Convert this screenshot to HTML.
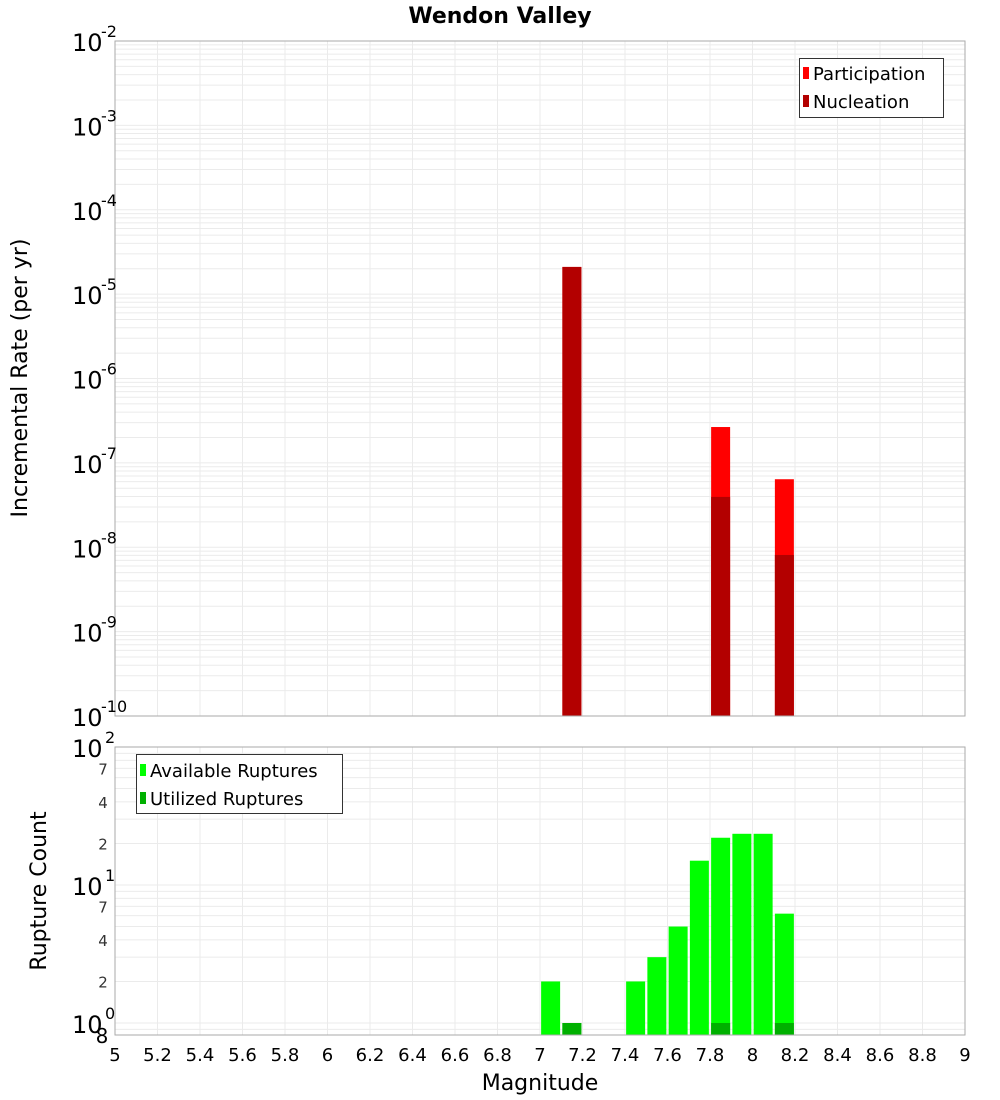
<!DOCTYPE html>
<html><head><meta charset="utf-8"><style>
body{margin:0;background:#fff;}
svg{display:block;font-family:"DejaVu Sans","Liberation Sans",sans-serif;}
</style></head><body>
<svg id="chart" width="1000" height="1100" viewBox="0 0 1000 1100">
<text x="500" y="23" text-anchor="middle" font-size="22" font-weight="bold">Wendon Valley</text>
<g id="topPanel"></g>
<g id="botPanel"></g>
<text transform="translate(27,378) rotate(-90)" text-anchor="middle" font-size="22">Incremental Rate (per yr)</text>
<text transform="translate(46,891) rotate(-90)" text-anchor="middle" font-size="22">Rupture Count</text>
<text x="540" y="1090" text-anchor="middle" font-size="22">Magnitude</text>
<g>
<rect x="799.5" y="58.5" width="144" height="59" fill="#fff" stroke="#333"/>
<rect x="803" y="67" width="6" height="12" fill="#ff0000"/>
<text x="813" y="80" font-size="18">Participation</text>
<rect x="803" y="95" width="6" height="12" fill="#b30000"/>
<text x="813" y="108" font-size="18">Nucleation</text>
</g>
<g>
<rect x="136.5" y="754.5" width="206" height="59" fill="#fff" stroke="#333"/>
<rect x="140" y="764" width="6" height="12" fill="#00ff00"/>
<text x="150" y="777" font-size="18">Available Ruptures</text>
<rect x="140" y="792" width="6" height="12" fill="#00b000"/>
<text x="150" y="805" font-size="18">Utilized Ruptures</text>
</g>
</svg>
<script>
const bins=[7.05,7.15,7.25,7.35,7.45,7.55,7.65,7.75,7.85,7.95,8.05,8.15];
const participation=[0,2.1e-5,0,0,0,0,0,0,2.66e-7,0,0,6.4e-8];
const nucleation=[0,2.1e-5,0,0,0,0,0,0,3.95e-8,0,0,8.1e-9];
const available=[2,1,0,0,2,3,5,15,22,23.5,23.5,6.2];
const utilized=[0,1,0,0,0,0,0,0,1,0,0,1];
const xTicks=[5,5.2,5.4,5.6,5.8,6,6.2,6.4,6.6,6.8,7,7.2,7.4,7.6,7.8,8,8.2,8.4,8.6,8.8,9];
const topDecades=[-2,-3,-4,-5,-6,-7,-8,-9,-10];
const botDecades=[2,1,0];
const botMinor=[2,4,7];

const NS="http://www.w3.org/2000/svg";
const L=115,R=965,T1=41,B1=716,T2=747,B2=1035;
const xs=m=>L+(m-5)*(R-L)/4;
const yTop=v=>T1+(-2-Math.log10(v))*(B1-T1)/8;
const yBot=v=>T2+(2-Math.log10(v))*138;
function mk(p,tag,a){const e=document.createElementNS(NS,tag);for(const k in a)e.setAttribute(k,a[k]);p.appendChild(e);return e;}
const gTop=document.getElementById('topPanel'),gBot=document.getElementById('botPanel');

function panel(g,T,B,yf,lo,hi){
  mk(g,'rect',{x:L,y:T,width:R-L,height:B-T,fill:'#fff'});
  for(let d=lo;d<hi;d++)for(let k=1;k<10;k++){const v=k*Math.pow(10,d);const yy=yf(v);if(yy<T||yy>B)continue;
    const ln=mk(g,'line',{x1:L,x2:R,y1:yy,y2:yy,stroke:'#ebebeb','stroke-width':1});
    
    }
  xTicks.forEach(t=>{const ln=mk(g,'line',{x1:xs(t),x2:xs(t),y1:T,y2:B,stroke:'#ebebeb'});
    
    });
}
panel(gTop,T1,B1,yTop,-10,-2);
panel(gBot,T2,B2,yBot,-1,2);
const bw=19;
bins.forEach((m,i)=>{
  if(participation[i]>0){const r=mk(gTop,'rect',{x:xs(m)-bw/2,y:yTop(participation[i]),width:bw,height:B1-yTop(participation[i]),fill:'#ff0000'});
    
    }
  if(nucleation[i]>0){const r=mk(gTop,'rect',{x:xs(m)-bw/2,y:yTop(nucleation[i]),width:bw,height:B1-yTop(nucleation[i]),fill:'#b30000'});
    
    }
  if(available[i]>0){const r=mk(gBot,'rect',{x:xs(m)-bw/2,y:yBot(available[i]),width:bw,height:B2-yBot(available[i]),fill:'#00ff00'});
    
    }
  if(utilized[i]>0){const r=mk(gBot,'rect',{x:xs(m)-bw/2,y:yBot(utilized[i]),width:bw,height:B2-yBot(utilized[i]),fill:'#00b000'});
    
    }
});
mk(gTop,'rect',{x:L,y:T1,width:R-L,height:B1-T1,fill:'none',stroke:'#aaa'});
mk(gBot,'rect',{x:L,y:T2,width:R-L,height:B2-T2,fill:'none',stroke:'#aaa'});
topDecades.forEach(d=>{const yy=yTop(Math.pow(10,d));
  const t=mk(gTop,'text',{x:72,y:yy+10,'font-size':24});t.textContent='10';
  
  
  const s=mk(gTop,'text',{x:101,y:yy-4,'font-size':16});s.textContent=String(d);
  
  });
botDecades.forEach(d=>{const yy=yBot(Math.pow(10,d));
  const t=mk(gBot,'text',{x:72,y:yy+10,'font-size':24});t.textContent='10';
  
  
  const s=mk(gBot,'text',{x:105,y:yy-4,'font-size':16});s.textContent=String(d);
  
  });
[0,1].forEach(d=>botMinor.forEach(k=>{const yy=yBot(k*Math.pow(10,d));
  const t=mk(gBot,'text',{x:103,y:yy+6,'font-size':15,'text-anchor':'middle',fill:'#333'});t.textContent=String(k);
  
  }));
{const t=mk(gBot,'text',{x:102,y:B2+8,'font-size':20,'text-anchor':'middle'});t.textContent='8';
 
 }
xTicks.forEach(v=>{const t=mk(gBot,'text',{x:xs(v),y:1061,'font-size':18,'text-anchor':'middle'});t.textContent=String(v);
  
  });
</script>
</body></html>
